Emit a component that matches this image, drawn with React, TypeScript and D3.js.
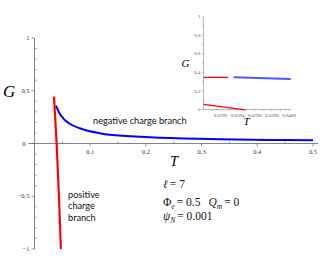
import { useEffect, useRef } from 'react'
import * as d3 from 'd3'

// main plot: G vs T
const xTicks = [0.1, 0.2, 0.3, 0.4, 0.5]
const yTicks = [1, 0.5, 0, -0.5, -1]
const yTickLabels = ['1', '0.5', '0', '\u22120.5', '\u22121']

// negative charge branch (blue)
const blueT = [0.0385, 0.0445, 0.0515, 0.0640, 0.0814, 0.117, 0.135, 0.207, 0.296, 0.332, 0.42, 0.5]
const blueG = [0.358, 0.290, 0.239, 0.185, 0.144, 0.097, 0.082, 0.059, 0.044, 0.040, 0.034, 0.030]

// positive charge branch (red)
const redT = [0.0349, 0.0397, 0.0438, 0.0474]
const redG = [0.444, 0.0, -0.5, -1.0]

// inset (zoom near T = 0.039 .. 0.040)
const insetXTicks = [0.0392, 0.0394, 0.0396, 0.0398, 0.04]
const insetYTicks = [0, 0.2, 0.4, 0.6, 0.8, 1]
const insetRedUpperT = [0.039, 0.03929]
const insetRedUpperG = [0.347, 0.346]
const insetBlueT = [0.03935, 0.04002]
const insetBlueG = [0.347, 0.329]
const insetRedLowerT = [0.039, 0.03949]
const insetRedLowerG = [0.056, -0.005]

const axisColor = '#666'
const labelColor = '#333'
const serif = '"Liberation Serif", "Times New Roman", serif'
const sans = 'Lato, "Open Sans", sans-serif'

export default function App() {
  const svgRef = useRef<SVGSVGElement>(null)

  useEffect(() => {
    if (!svgRef.current) return
    const svg = d3.select(svgRef.current)
    svg.selectAll('*').remove()

    const x = d3.scaleLinear().domain([0, 0.5]).range([34.5, 313])
    const y = d3.scaleLinear().domain([-1, 1]).range([249, 38])
    const x0 = x(0)
    const y0 = y(0)

    // axes
    svg.append('line')
      .attr('x1', 28).attr('x2', 318).attr('y1', y0).attr('y2', y0)
      .attr('stroke', axisColor).attr('stroke-width', 0.8)
    svg.append('line')
      .attr('x1', x0).attr('x2', x0).attr('y1', y(1)).attr('y2', y(-1))
      .attr('stroke', axisColor).attr('stroke-width', 0.8)

    // y ticks: minor inward, major outward
    d3.range(-10, 11).map(i => i / 10).forEach(v => {
      const major = Math.abs(v * 2 - Math.round(v * 2)) < 1e-9
      svg.append('line')
        .attr('x1', major ? x0 - 3 : x0).attr('x2', major ? x0 : x0 + 2)
        .attr('y1', y(v)).attr('y2', y(v))
        .attr('stroke', axisColor).attr('stroke-width', 0.7)
    })
    yTicks.forEach((v, i) => {
      svg.append('text')
        .attr('x', v === 0 ? x0 - 9 : x0 - 5).attr('y', y(v) + 2.2)
        .attr('text-anchor', 'end')
        .style('font-family', serif).style('font-size', '6.5px')
        .style('fill', labelColor)
        .text(yTickLabels[i])
    })

    // x ticks
    d3.range(1, 11).map(i => i * 0.05).forEach(v => {
      const major = Math.abs(v * 10 - Math.round(v * 10)) < 1e-9
      svg.append('line')
        .attr('x1', x(v)).attr('x2', x(v))
        .attr('y1', major ? y0 : y0 - 2).attr('y2', major ? y0 + 3 : y0)
        .attr('stroke', axisColor).attr('stroke-width', 0.7)
    })
    xTicks.forEach(v => {
      svg.append('text')
        .attr('x', x(v)).attr('y', y0 + 10)
        .attr('text-anchor', 'middle')
        .style('font-family', serif).style('font-size', '6.5px')
        .style('fill', labelColor)
        .text(String(v))
    })

    // axis titles
    svg.append('text')
      .attr('x', 3).attr('y', 97)
      .style('font-family', serif).style('font-size', '17px').style('font-style', 'italic')
      .text('G')
    svg.append('text')
      .attr('x', 170).attr('y', 166)
      .style('font-family', serif).style('font-size', '14.5px').style('font-style', 'italic')
      .text('T')

    // curves
    const line = d3.line<[number, number]>()
      .x(d => x(d[0]))
      .y(d => y(d[1]))
      .curve(d3.curveMonotoneX)

    svg.append('path')
      .datum(blueT.map((t, i) => [t, blueG[i]] as [number, number]))
      .attr('fill', 'none').attr('stroke', '#0000ff').attr('stroke-width', 2)
      .attr('d', line)

    const redLine = d3.line<[number, number]>()
      .x(d => x(d[0]))
      .y(d => y(d[1]))
      .curve(d3.curveCatmullRom)
    svg.append('path')
      .datum(redT.map((t, i) => [t, redG[i]] as [number, number]))
      .attr('fill', 'none').attr('stroke', '#ff0000').attr('stroke-width', 2.2)
      .attr('d', redLine)

    // branch labels
    svg.append('text')
      .attr('x', 93).attr('y', 124)
      .style('font-family', sans).style('font-size', '9.2px').style('fill', '#111')
      .text('negative charge branch')
    ;['positive', 'charge', 'branch'].forEach((w, i) => {
      svg.append('text')
        .attr('x', 68).attr('y', 197.5 + i * 11.7)
        .style('font-family', sans).style('font-size', '9.2px').style('fill', '#111')
        .text(w)
    })

    // parameter annotations
    const ann = svg.append('g')
      .style('font-family', serif).style('font-size', '11.5px').style('fill', '#111')
    const l1 = ann.append('text').attr('x', 163).attr('y', 188)
    l1.append('tspan').style('font-style', 'italic').text('\u2113')
    l1.append('tspan').attr('dx', 2).text('= 7')

    const l2 = ann.append('text').attr('x', 163).attr('y', 206)
    l2.append('tspan').text('\u03A6')
    l2.append('tspan').attr('dy', 2.5).style('font-size', '7.5px').style('font-style', 'italic').text('e')
    l2.append('tspan').attr('dy', -2.5).attr('dx', 2).text('= 0.5')
    l2.append('tspan').attr('dx', 8).style('font-style', 'italic').text('Q')
    l2.append('tspan').attr('dy', 2.5).style('font-size', '7.5px').style('font-style', 'italic').text('m')
    l2.append('tspan').attr('dy', -2.5).attr('dx', 2).text('= 0')

    const l3 = ann.append('text').attr('x', 163).attr('y', 220)
    l3.append('tspan').style('font-style', 'italic').text('\u03C8')
    l3.append('tspan').attr('dy', 2.5).style('font-size', '7.5px').style('font-style', 'italic').text('N')
    l3.append('tspan').attr('dy', -2.5).attr('dx', 2).text('= 0.001')

    // inset
    const xi = d3.scaleLinear().domain([0.039, 0.04]).range([203.5, 289])
    const yi = d3.scaleLinear().domain([0, 1]).range([109.5, 16.8])
    const inset = svg.append('g')
    inset.append('line')
      .attr('x1', xi(0.039)).attr('x2', xi(0.039)).attr('y1', yi(1)).attr('y2', yi(0))
      .attr('stroke', '#888').attr('stroke-width', 0.6)
    inset.append('line')
      .attr('x1', xi(0.039)).attr('x2', 291).attr('y1', yi(0)).attr('y2', yi(0))
      .attr('stroke', '#888').attr('stroke-width', 0.6)
    d3.range(0, 11).map(i => i / 10).forEach(v => {
      inset.append('line')
        .attr('x1', xi(0.039) - 1.5).attr('x2', xi(0.039))
        .attr('y1', yi(v)).attr('y2', yi(v))
        .attr('stroke', '#888').attr('stroke-width', 0.5)
    })
    insetYTicks.forEach(v => {
      inset.append('text')
        .attr('x', xi(0.039) - 3).attr('y', yi(v) + 1.6)
        .attr('text-anchor', 'end')
        .style('font-family', serif).style('font-size', '5px').style('fill', '#555')
        .text(d3.format('~g')(v))
    })
    d3.range(1, 11).map(i => 0.039 + i * 0.0001).forEach(v => {
      inset.append('line')
        .attr('x1', xi(v)).attr('x2', xi(v))
        .attr('y1', yi(0)).attr('y2', yi(0) + 1.5)
        .attr('stroke', '#888').attr('stroke-width', 0.5)
    })
    insetXTicks.forEach(v => {
      inset.append('text')
        .attr('x', xi(v)).attr('y', yi(0) + 7)
        .attr('text-anchor', 'middle')
        .style('font-family', serif).style('font-size', '5px').style('fill', '#555')
        .text(d3.format('.4f')(v))
    })
    inset.append('text')
      .attr('x', 181.5).attr('y', 67)
      .style('font-family', serif).style('font-size', '11px').style('font-style', 'italic')
      .text('G')
    inset.append('text')
      .attr('x', 243.5).attr('y', 125)
      .style('font-family', serif).style('font-size', '11px').style('font-style', 'italic')
      .text('T')

    const iline = d3.line<[number, number]>()
      .x(d => xi(d[0]))
      .y(d => yi(d[1]))
    inset.append('path')
      .datum(insetRedUpperT.map((t, i) => [t, insetRedUpperG[i]] as [number, number]))
      .attr('fill', 'none').attr('stroke', '#ff0000').attr('stroke-width', 1.3)
      .attr('d', iline)
    inset.append('path')
      .datum(insetBlueT.map((t, i) => [t, insetBlueG[i]] as [number, number]))
      .attr('fill', 'none').attr('stroke', '#1a1aff').attr('stroke-width', 2).attr('stroke-opacity', 0.75)
      .attr('d', iline)
    inset.append('path')
      .datum(insetRedLowerT.map((t, i) => [t, insetRedLowerG[i]] as [number, number]))
      .attr('fill', 'none').attr('stroke', '#ff0000').attr('stroke-width', 1.3)
      .attr('d', iline)
  }, [])

  return (
    <svg
      ref={svgRef}
      width={324}
      height={256}
      style={{ position: 'absolute', left: 0, top: 0, background: '#fff', display: 'block' }}
    />
  )
}
